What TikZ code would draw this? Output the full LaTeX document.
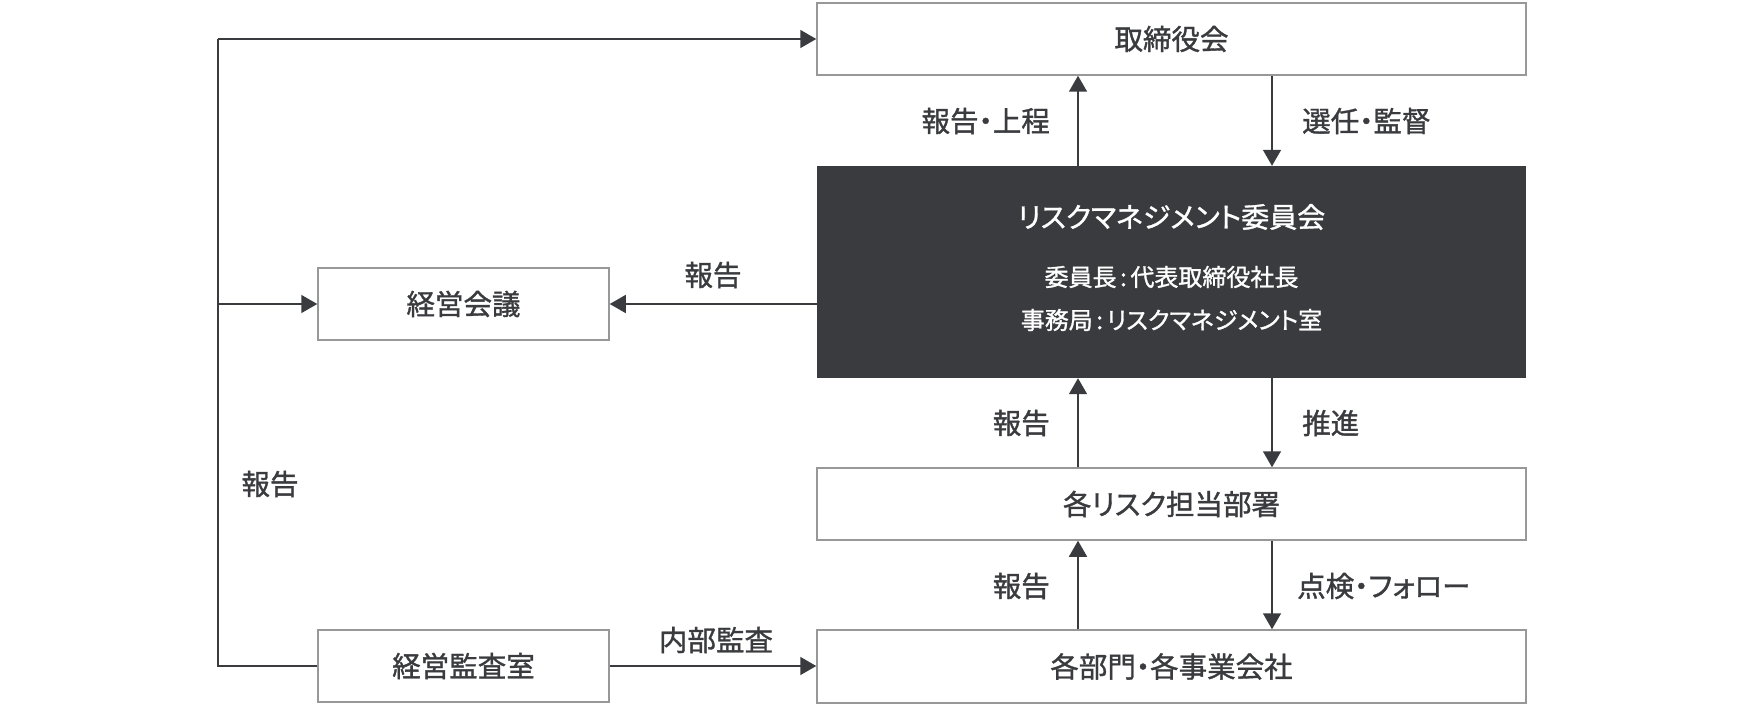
\documentclass[tikz,border=0pt]{standalone}
\usepackage{fontspec}
\setmainfont{Noto Sans CJK JP}[RawFeature=+palt, FakeBold=1.2]
\usetikzlibrary{arrows.meta,calc}
\definecolor{ink}{HTML}{3A3B3F}
\definecolor{frame}{HTML}{989898}
\newcommand{\jcol}{\kern0.15em:\kern0.15em}
\begin{document}
\begin{tikzpicture}[x=1pt,y=-1pt,
  box/.style={draw=frame, line width=1.5pt, fill=white, inner sep=0pt, text=ink,
    font=\fontsize{28.5}{32}\selectfont},
  darkbox/.style={fill=ink, draw=none, inner sep=0pt},
  lab/.style={text=ink, inner sep=0pt, font=\fontsize{28.5}{32}\selectfont},
  wtitle/.style={text=white, inner sep=0pt, font=\fontsize{28}{32}\selectfont},
  wsub/.style={text=white, inner sep=0pt, font=\fontsize{24}{28}\selectfont},
  arr/.style={draw=ink, line width=1.6pt, -{Triangle[length=16pt,width=18pt]}},
  ln/.style={draw=ink, line width=1.6pt}]
\useasboundingbox (0,0) rectangle (1760,706);
\fill[white] (0,0) rectangle (1760,706);

% boxes
\node[box, minimum width=709pt, minimum height=72pt] (board) at (1171.5,39) {取締役会};
\node[darkbox, minimum width=709pt, minimum height=212pt] (rmc) at (1171.5,272) {};
\node[box, minimum width=709pt, minimum height=72pt] (risk) at (1171.5,504) {各リスク担当部署};
\node[box, minimum width=709pt, minimum height=73pt] (dept) at (1171.5,666.5) {各部門・各事業会社};
\node[box, minimum width=291pt, minimum height=72pt] (mtg) at (463.5,304) {経営会議};
\node[box, minimum width=291pt, minimum height=72pt] (audit) at (463.5,666) {経営監査室};

% text inside dark box
\node[wtitle] (rmct) at (1171.5,217) {リスクマネジメント委員会};
\node[wsub] (rmc1) at (1171.5,277) {委員長\jcol 代表取締役社長};
\node[wsub] (rmc2) at (1171.5,320) {事務局\jcol リスクマネジメント室};

% helper coordinates
\coordinate (ux) at (1078,0);
\coordinate (dx) at (1272,0);
\coordinate (lt) at (218,39);
\coordinate (lb) at (218,666);

% vertical arrows
\draw[arr] (rmc.north -| ux) -- (board.south -| ux);
\draw[arr] (board.south -| dx) -- (rmc.north -| dx);
\draw[arr] (risk.north -| ux) -- (rmc.south -| ux);
\draw[arr] (rmc.south -| dx) -- (risk.north -| dx);
\draw[arr] (dept.north -| ux) -- (risk.south -| ux);
\draw[arr] (risk.south -| dx) -- (dept.north -| dx);

% horizontal arrows
\draw[arr] (rmc.west |- mtg.east) -- (mtg.east);
\draw[arr] (audit.east) -- (dept.west |- audit.east);
\draw[ln] (audit.west) -- (lb) -- (lt);
\draw[arr] (lt) -- (board.west);
\draw[arr] (lb |- mtg.west) -- (mtg.west);

% labels
\node[lab, anchor=east] (l1) at (1050,121) {報告・上程};
\node[lab, anchor=west] (l2) at (1302,121) {選任・監督};
\node[lab] (l3) at (713,275) {報告};
\node[lab, anchor=east] (l4) at (1050,423) {報告};
\node[lab, anchor=west] (l5) at (1302,423) {推進};
\node[lab, anchor=east] (l6) at (1050,586) {報告};
\node[lab, anchor=west] (l7) at (1297,586) {点検・フォロー};
\node[lab] (l8) at (270,484) {報告};
\node[lab] (l9) at (716,640) {内部監査};
\end{tikzpicture}
\end{document}
